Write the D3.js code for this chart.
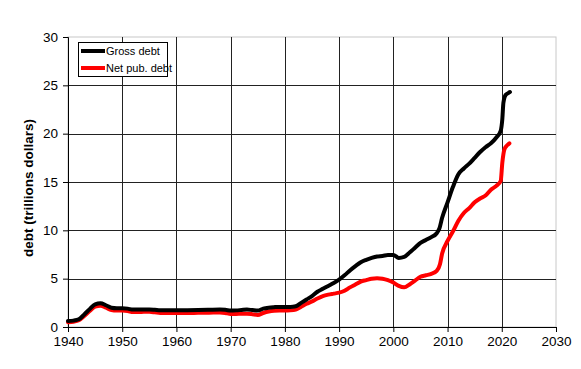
<!DOCTYPE html>
<html>
<head>
<meta charset="utf-8">
<script src="https://cdn.jsdelivr.net/npm/d3@7"></script>
<style>
  body { margin: 0; background: #fff; }
  svg text { font-family: Arial, "Liberation Sans", sans-serif; }
</style>
</head>
<body>
<div id="chart"></div>
<script>
// Gross federal debt, trillions of dollars
const grossYears = [1940, 1941, 1942, 1943, 1944, 1945, 1946, 1947, 1948, 1949, 1950, 1951, 1952, 1953, 1954, 1955, 1956, 1957, 1958, 1959, 1960, 1962, 1964, 1966, 1968, 1969, 1970, 1971, 1972, 1973, 1974, 1975, 1976, 1977, 1978, 1979, 1980, 1981, 1982, 1983, 1984, 1985, 1986, 1987, 1988, 1989, 1990, 1991, 1992, 1993, 1994, 1995, 1996, 1997, 1998, 1999, 2000, 2001, 2002, 2003, 2004, 2005, 2006, 2007, 2008, 2008.5, 2009, 2010, 2011, 2012, 2013, 2014, 2015, 2016, 2017, 2018, 2019, 2019.8, 2020.1, 2020.3, 2020.7, 2021.2, 2021.5];
const grossDebt = [0.62, 0.66, 0.8, 1.3, 1.85, 2.35, 2.45, 2.25, 2.0, 1.95, 1.95, 1.9, 1.8, 1.8, 1.82, 1.82, 1.78, 1.72, 1.72, 1.72, 1.72, 1.74, 1.76, 1.78, 1.8, 1.78, 1.7, 1.72, 1.76, 1.8, 1.75, 1.7, 1.9, 2.0, 2.05, 2.08, 2.08, 2.08, 2.15, 2.5, 2.85, 3.2, 3.65, 3.95, 4.25, 4.55, 4.9, 5.35, 5.85, 6.3, 6.7, 6.95, 7.15, 7.3, 7.35, 7.45, 7.45, 7.15, 7.25, 7.7, 8.2, 8.7, 9.0, 9.3, 9.7, 10.2, 11.3, 12.9, 14.5, 15.8, 16.4, 16.9, 17.5, 18.1, 18.6, 19.0, 19.6, 20.3, 21.5, 23.2, 24.0, 24.2, 24.3];

// Net debt held by the public
const netYears = [1940, 1941, 1942, 1943, 1944, 1945, 1946, 1947, 1948, 1949, 1950, 1951, 1952, 1953, 1954, 1955, 1956, 1957, 1958, 1959, 1960, 1962, 1964, 1966, 1968, 1969, 1970, 1971, 1972, 1973, 1974, 1975, 1976, 1977, 1978, 1979, 1980, 1981, 1982, 1983, 1984, 1985, 1986, 1987, 1988, 1989, 1990, 1991, 1992, 1993, 1994, 1995, 1996, 1997, 1998, 1999, 2000, 2001, 2002, 2003, 2004, 2005, 2006, 2007, 2008, 2008.6, 2009, 2010, 2011, 2012, 2013, 2014, 2015, 2016, 2017, 2018, 2019, 2019.8, 2020.1, 2020.5, 2021, 2021.4];
const netDebt = [0.5, 0.55, 0.7, 1.15, 1.65, 2.1, 2.2, 2.0, 1.75, 1.7, 1.7, 1.65, 1.55, 1.55, 1.57, 1.57, 1.52, 1.45, 1.45, 1.45, 1.45, 1.45, 1.47, 1.48, 1.5, 1.45, 1.35, 1.35, 1.38, 1.38, 1.33, 1.25, 1.45, 1.6, 1.68, 1.7, 1.7, 1.72, 1.8, 2.1, 2.4, 2.65, 2.95, 3.2, 3.35, 3.45, 3.55, 3.75, 4.1, 4.4, 4.7, 4.85, 5.0, 5.05, 5.0, 4.85, 4.6, 4.25, 4.1, 4.4, 4.8, 5.2, 5.35, 5.5, 5.8, 6.5, 7.6, 8.9, 9.9, 11.0, 11.8, 12.3, 12.9, 13.3, 13.6, 14.2, 14.6, 15.1, 17.0, 18.4, 18.8, 19.0];

const xTicks = [1940, 1950, 1960, 1970, 1980, 1990, 2000, 2010, 2020, 2030];
const yTicks = [0, 5, 10, 15, 20, 25, 30];
const seriesNames = ['Gross debt', 'Net pub. debt'];
const seriesColors = ['#000000', '#ff0000'];

const W = 581, H = 369;
const margin = {top: 37, right: 25, bottom: 42, left: 68};
const width = W - margin.left - margin.right;
const height = H - margin.top - margin.bottom;

const svg = d3.select('#chart').append('svg')
    .attr('width', W)
    .attr('height', H);

const g = svg.append('g')
    .attr('transform', `translate(${margin.left},${margin.top})`);

const x = d3.scaleLinear().domain([1940, 2030]).range([0, width]);
const y = d3.scaleLinear().domain([0, 30]).range([height, 0]);

// plot frame (light grey top/right)
g.append('rect')
    .attr('x', 0).attr('y', 0)
    .attr('width', width).attr('height', height)
    .attr('fill', 'none')
    .attr('stroke', '#c8c8c8');

// gridlines
g.selectAll('.hgrid')
    .data(yTicks.filter(d => d > 0 && d < 30))
    .enter().append('line')
    .attr('x1', 0).attr('x2', width)
    .attr('y1', d => Math.round(y(d)) + 0.5)
    .attr('y2', d => Math.round(y(d)) + 0.5)
    .attr('stroke', '#222');

g.selectAll('.vgrid')
    .data(xTicks.filter(d => d > 1940 && d < 2030))
    .enter().append('line')
    .attr('y1', 0).attr('y2', height)
    .attr('x1', d => Math.round(x(d)) + 0.5)
    .attr('x2', d => Math.round(x(d)) + 0.5)
    .attr('stroke', '#222');

// axes
const xAxis = g.append('g')
    .attr('transform', `translate(0,${height})`)
    .call(d3.axisBottom(x).tickValues(xTicks).tickFormat(d3.format('d')).tickSize(5).tickPadding(4));

const yAxis = g.append('g')
    .call(d3.axisLeft(y).tickValues(yTicks).tickSize(5).tickPadding(5));

[xAxis, yAxis].forEach(a => {
    a.select('.domain').attr('stroke', '#000');
    a.selectAll('.tick line').attr('stroke', '#000');
    a.selectAll('text')
        .attr('fill', '#000')
        .style('font-size', '13.5px')
        .style('font-family', 'Arial, "Liberation Sans", sans-serif');
});

// series
const line = d3.line()
    .x(d => x(d[0]))
    .y(d => y(d[1]))
    .curve(d3.curveMonotoneX);

const netData = netYears.map((yr, i) => [yr, netDebt[i]]);
const grossData = grossYears.map((yr, i) => [yr, grossDebt[i]]);

g.append('path')
    .datum(netData)
    .attr('fill', 'none')
    .attr('stroke', seriesColors[1])
    .attr('stroke-width', 4)
    .attr('stroke-linejoin', 'round')
    .attr('stroke-linecap', 'round')
    .attr('d', line);

g.append('path')
    .datum(grossData)
    .attr('fill', 'none')
    .attr('stroke', seriesColors[0])
    .attr('stroke-width', 4)
    .attr('stroke-linejoin', 'round')
    .attr('stroke-linecap', 'round')
    .attr('d', line);

// y label
svg.append('text')
    .attr('transform', 'translate(33,188) rotate(-90)')
    .attr('text-anchor', 'middle')
    .style('font-size', '13.5px')
    .style('font-weight', 'bold')
    .text('debt (trillions dollars)');

// legend
const legend = svg.append('g').attr('transform', 'translate(78,42)');
legend.append('rect')
    .attr('x', 0.5).attr('y', 0.5)
    .attr('width', 89).attr('height', 34)
    .attr('fill', '#fff')
    .attr('stroke', '#000');

seriesNames.forEach((name, i) => {
    const ly = 9 + i * 17;
    legend.append('line')
        .attr('x1', 3).attr('x2', 27)
        .attr('y1', ly).attr('y2', ly)
        .attr('stroke', seriesColors[i])
        .attr('stroke-width', 4);
    legend.append('text')
        .attr('x', 28)
        .attr('y', ly + 4)
        .style('font-size', '11px')
        .text(name);
});
</script>
</body>
</html>
